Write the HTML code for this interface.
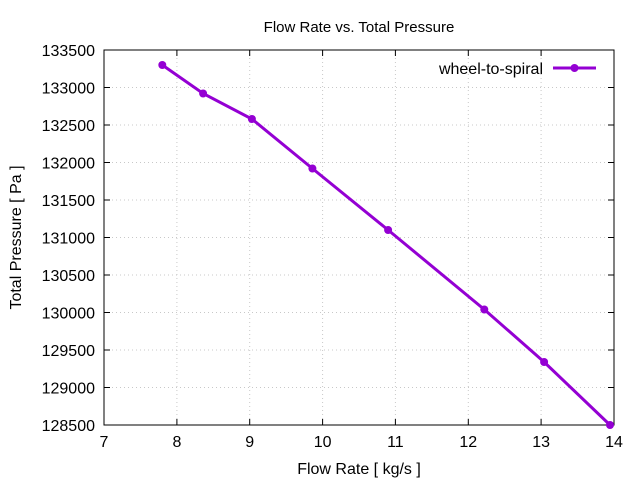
<!DOCTYPE html>
<html><head><meta charset="utf-8"><style>
html,body{margin:0;padding:0;background:#fff;}
svg{display:block;font-family:"Liberation Sans",sans-serif;}
</style></head><body>
<svg width="640" height="480" viewBox="0 0 640 480" xmlns="http://www.w3.org/2000/svg">
<rect width="640" height="480" fill="#fff"/>
<g stroke="#c8c8c8" stroke-width="1" stroke-dasharray="1,3">
<line x1="176.9" y1="50" x2="176.9" y2="425"/>
<line x1="249.7" y1="50" x2="249.7" y2="425"/>
<line x1="322.6" y1="50" x2="322.6" y2="425"/>
<line x1="395.4" y1="50" x2="395.4" y2="425"/>
<line x1="468.3" y1="50" x2="468.3" y2="425"/>
<line x1="541.1" y1="50" x2="541.1" y2="425"/>
<line x1="104" y1="87.5" x2="614" y2="87.5"/>
<line x1="104" y1="125" x2="614" y2="125"/>
<line x1="104" y1="162.5" x2="614" y2="162.5"/>
<line x1="104" y1="200" x2="614" y2="200"/>
<line x1="104" y1="237.5" x2="614" y2="237.5"/>
<line x1="104" y1="275" x2="614" y2="275"/>
<line x1="104" y1="312.5" x2="614" y2="312.5"/>
<line x1="104" y1="350" x2="614" y2="350"/>
<line x1="104" y1="387.5" x2="614" y2="387.5"/>
</g>
<rect x="104" y="50" width="510" height="375" fill="none" stroke="#000" stroke-width="1"/>
<g stroke="#000" stroke-width="1">
<path d="M176.9 425v-6M249.7 425v-6M322.6 425v-6M395.4 425v-6M468.3 425v-6M541.1 425v-6M176.9 50v6M249.7 50v6M322.6 50v6M395.4 50v6M468.3 50v6M541.1 50v6"/>
<path d="M104 87.5h6M104 125h6M104 162.5h6M104 200h6M104 237.5h6M104 275h6M104 312.5h6M104 350h6M104 387.5h6M614 87.5h-6M614 125h-6M614 162.5h-6M614 200h-6M614 237.5h-6M614 275h-6M614 312.5h-6M614 350h-6M614 387.5h-6"/>
</g>
<g font-size="16" fill="#000" text-anchor="end">
<text x="95" y="56">133500</text>
<text x="95" y="93.5">133000</text>
<text x="95" y="131">132500</text>
<text x="95" y="168.5">132000</text>
<text x="95" y="206">131500</text>
<text x="95" y="243.5">131000</text>
<text x="95" y="281">130500</text>
<text x="95" y="318.5">130000</text>
<text x="95" y="356">129500</text>
<text x="95" y="393.5">129000</text>
<text x="95" y="431">128500</text>
</g>
<g font-size="16" fill="#000" text-anchor="middle">
<text x="104" y="447">7</text>
<text x="176.9" y="447">8</text>
<text x="249.7" y="447">9</text>
<text x="322.6" y="447">10</text>
<text x="395.4" y="447">11</text>
<text x="468.3" y="447">12</text>
<text x="541.1" y="447">13</text>
<text x="614" y="447">14</text>
<text x="359" y="474">Flow Rate [ kg/s ]</text>
<text x="359" y="32" font-size="15">Flow Rate vs. Total Pressure</text>
<text transform="translate(21 237.5) rotate(-90)">Total Pressure [ Pa ]</text>
</g>
<text x="543" y="74" font-size="16" text-anchor="end">wheel-to-spiral</text>
<g stroke="#9400d3" stroke-width="3" fill="#9400d3">
<line x1="553" y1="68" x2="596" y2="68"/>
<polyline fill="none" points="162.3,65 203.1,93.5 251.9,119 312.4,168.5 388.1,230 484.3,309.5 544.1,362 610,425"/>
</g>
<g fill="#9400d3">
<circle cx="574.5" cy="68" r="4"/>
<circle cx="162.3" cy="65" r="4"/>
<circle cx="203.1" cy="93.5" r="4"/>
<circle cx="251.9" cy="119" r="4"/>
<circle cx="312.4" cy="168.5" r="4"/>
<circle cx="388.1" cy="230" r="4"/>
<circle cx="484.3" cy="309.5" r="4"/>
<circle cx="544.1" cy="362" r="4"/>
<circle cx="610" cy="425" r="4"/>
</g>
</svg>
</body></html>
